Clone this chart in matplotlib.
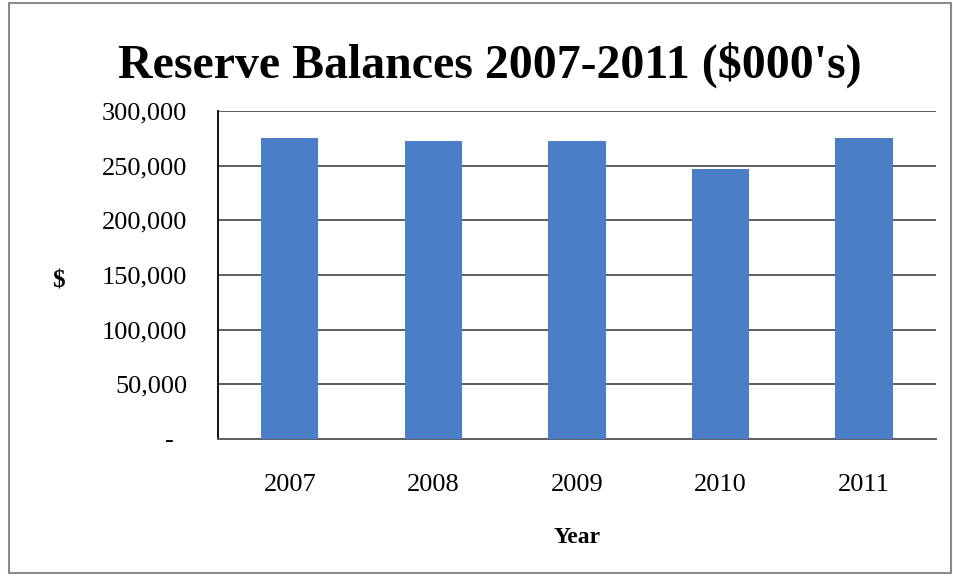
import matplotlib.pyplot as plt
from matplotlib.patches import Rectangle
from matplotlib.ticker import FuncFormatter

# Reserve balances by year ($000's)
years = ["2007", "2008", "2009", "2010", "2011"]
balances = [275000, 272700, 272700, 247400, 275000]
yticks = [0, 50000, 100000, 150000, 200000, 250000, 300000]

bar_color = "#4A7EC6"
grid_color = "#5e5e5e"


def fmt(v, pos):
    # accounting style: zero shown as a dash
    if v == 0:
        return "-  "
    return f"{v:,.0f}"


def main():
    plt.rcParams["font.family"] = ["Liberation Serif", "DejaVu Serif"]

    fig = plt.figure(figsize=(9.54, 5.77), dpi=100)
    ax = fig.add_axes([0.2285, 0.2392, 0.7525, 0.5684])

    x = range(len(years))
    ax.bar(x, balances, width=0.4, color=bar_color, zorder=3)

    ax.set_xlim(-0.5, len(years) - 0.5)
    ax.set_ylim(0, 300000)
    ax.set_yticks(yticks)
    ax.yaxis.set_major_formatter(FuncFormatter(fmt))
    ax.set_xticks(list(x))
    ax.set_xticklabels(years)

    ax.grid(axis="y", color=grid_color, linewidth=1.4, zorder=0)
    ax.tick_params(axis="both", length=0, labelsize=19)
    ax.tick_params(axis="y", pad=22)
    ax.tick_params(axis="x", pad=25.5)

    for s in ["top", "right"]:
        ax.spines[s].set_visible(False)
    ax.spines["left"].set_color("#111111")
    ax.spines["left"].set_linewidth(1.4)
    ax.spines["bottom"].set_color(grid_color)
    ax.spines["bottom"].set_linewidth(1.4)

    ax.set_xlabel("Year", fontsize=17, fontweight="bold", labelpad=22)
    ax.set_ylabel("\\$", fontsize=18, fontweight="bold", rotation=0,
                  va="center", labelpad=0)
    ax.yaxis.set_label_coords(-0.222, 0.482)

    fig.text(0.513, 0.888, "Reserve Balances 2007-2011 (\\$000's)",
             ha="center", va="center", fontsize=34.5, fontweight="bold")

    # outer frame around the whole chart
    fig.add_artist(Rectangle((9 / 954, 4 / 577), 942 / 954, 570 / 577,
                             transform=fig.transFigure, fill=False,
                             edgecolor="#8a8a8a", linewidth=1.5))

    fig.savefig("out.png", dpi=100)


if __name__ == "__main__":
    main()
